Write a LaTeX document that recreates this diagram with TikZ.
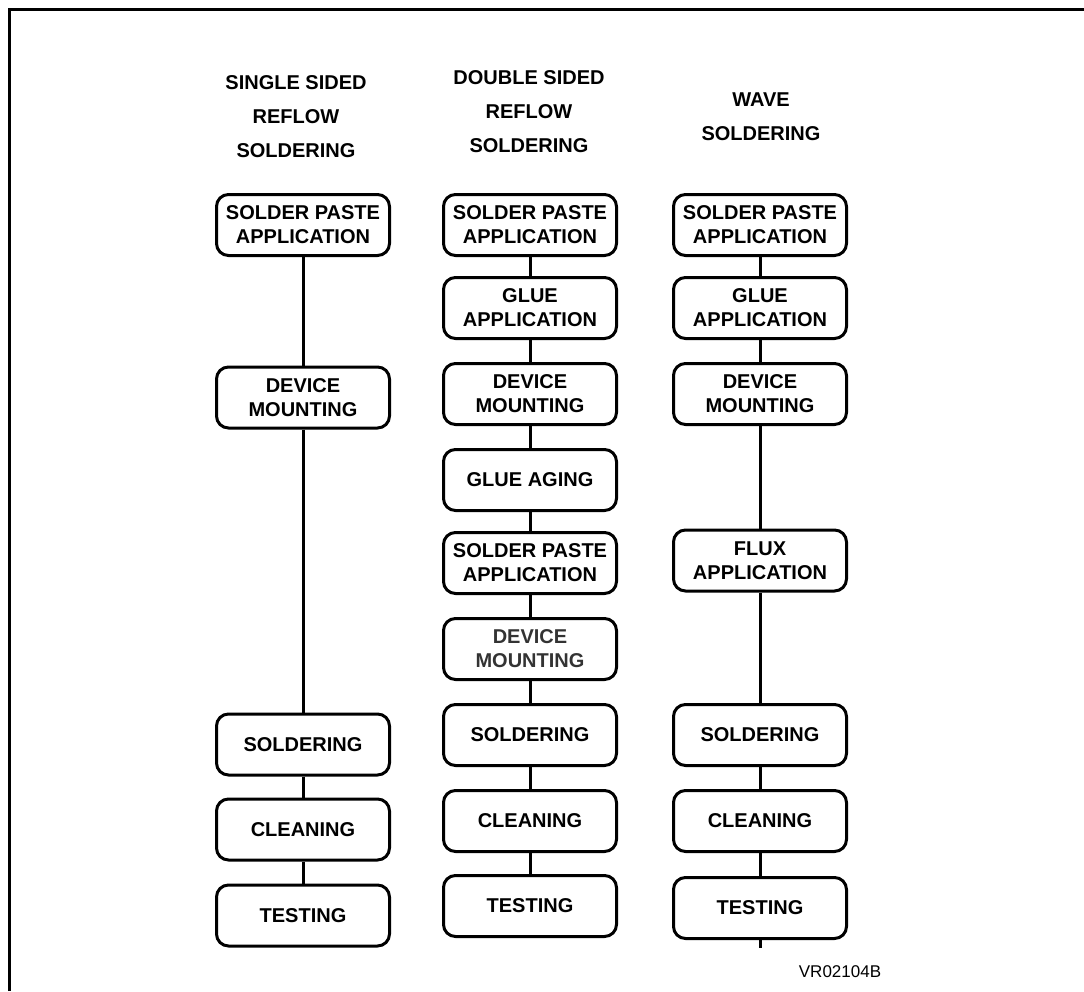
\documentclass[tikz,border=0pt]{standalone}
\usepackage{fontspec}
\setmainfont{Liberation Sans}
\usetikzlibrary{positioning}

\begin{document}
\begin{tikzpicture}[x=1pt, y=-1pt,
    stage/.style={draw, line width=3pt, rounded corners=12pt,
      minimum width=173pt, minimum height=61pt, inner sep=0pt,
      align=center, font=\bfseries\fontsize{20}{24}\selectfont},
    heading/.style={align=center, inner sep=0pt,
      font=\bfseries\fontsize{20}{34}\selectfont},
    link/.style={line width=3pt}
    ]
    \useasboundingbox (0,0) rectangle (1084,991);
    \draw[line width=3.5pt] (9.5,991) -- (9.5,9.5) -- (1084,9.5);

    \node[heading] (hs) at (296,117) {SINGLE SIDED\\REFLOW\\SOLDERING};
    \node[heading] (hd) at (529,112) {DOUBLE SIDED\\REFLOW\\SOLDERING};
    \node[heading] (hw) at (761,117) {WAVE\\SOLDERING};

    \node[stage] (ss1) at (303,225) {SOLDER PASTE\\APPLICATION};
    \node[stage] (ss2) at (303,397.5) {DEVICE\\MOUNTING};
    \node[stage] (ss3) at (303,744.5) {SOLDERING};
    \node[stage] (ss4) at (303,829.5) {CLEANING};
    \node[stage] (ss5) at (303,915.5) {TESTING};

    \node[stage] (ds1) at (530,225) {SOLDER PASTE\\APPLICATION};
    \node[stage] (ds2) at (530,308) {GLUE\\APPLICATION};
    \node[stage] (ds3) at (530,394) {DEVICE\\MOUNTING};
    \node[stage] (ds4) at (530,480) {GLUE AGING};
    \node[stage] (ds5) at (530,563) {SOLDER PASTE\\APPLICATION};
    \node[stage, text=black!80] (ds6) at (530,649) {DEVICE\\MOUNTING};
    \node[stage] (ds7) at (530,735) {SOLDERING};
    \node[stage] (ds8) at (530,821) {CLEANING};
    \node[stage] (ds9) at (530,906) {TESTING};

    \node[stage] (ws1) at (760,225) {SOLDER PASTE\\APPLICATION};
    \node[stage] (ws2) at (760,308) {GLUE\\APPLICATION};
    \node[stage] (ws3) at (760,394) {DEVICE\\MOUNTING};
    \node[stage] (ws4) at (760,560.5) {FLUX\\APPLICATION};
    \node[stage] (ws5) at (760,735) {SOLDERING};
    \node[stage] (ws6) at (760,821) {CLEANING};
    \node[stage] (ws7) at (760,908) {TESTING};
    \coordinate (wend) at (760,948);

    \draw[link] (ss1) -- (ss2) -- (ss3) -- (ss4) -- (ss5);
    \draw[link] (ds1) -- (ds2) -- (ds3) -- (ds4) -- (ds5)
      -- (ds6) -- (ds7) -- (ds8) -- (ds9);
    \draw[link] (ws1) -- (ws2) -- (ws3) -- (ws4) -- (ws5)
      -- (ws6) -- (ws7) -- (wend);

    \node[font=\fontsize{17}{20}\selectfont] (code) at (840,972) {VR02104B};
  \end{tikzpicture}
\end{document}
